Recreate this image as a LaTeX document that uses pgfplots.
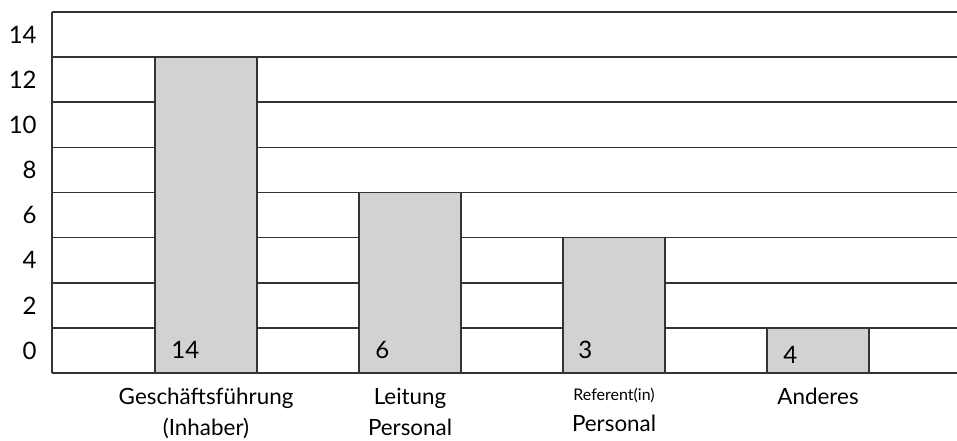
\documentclass[border=0pt]{standalone}
\usepackage{fontspec}
\setmainfont{Lato}
\usepackage{pgfplots}
\pgfplotsset{compat=1.18}
\definecolor{barfill}{HTML}{D1D2D4}
\definecolor{gridc}{HTML}{333333}
\begin{document}
\begin{tikzpicture}
  \begin{axis}[
    at={(0,0)}, anchor=south west,
    scale only axis,
    width=452.5pt, height=180.5pt,
    xmin=0.245, xmax=4.681,
    ymin=0, ymax=16,
    axis x line*=bottom, axis y line*=left,
    axis line style={-, gridc, line width=0.8pt},
    xtick={1,2,3,4},
    xticklabels={Geschäftsführung\\(Inhaber), Leitung\\Personal,
      {{\fontsize{8}{9}\selectfont Referent(in)}\\Personal}, Anderes},
    xticklabel style={align=center, anchor=north, inner sep=0pt, yshift=-7.5pt,
      font=\fontsize{11.2}{15.5}\selectfont},
    ytick={1,3,...,15},
    yticklabels={0,2,4,6,8,10,12,14},
    yticklabel style={anchor=east, inner sep=0pt, xshift=-7.5pt,
      font=\fontsize{12}{14}\selectfont},
    minor ytick={0,2,...,16},
    yminorgrids=true,
    minor grid style={gridc, line width=0.8pt},
    major tick length=0pt, minor tick length=0pt,
  ]
    \addplot[ybar, bar width=51pt, fill=barfill, draw=gridc, line width=0.8pt]
      coordinates {(1,14) (2,8) (3,6) (4,2)};
    \node[anchor=base west, inner sep=0pt, xshift=8pt, font=\fontsize{12}{14}\selectfont]
      at (axis cs:0.75,0.665) {14};
    \node[anchor=base west, inner sep=0pt, xshift=8pt, font=\fontsize{12}{14}\selectfont]
      at (axis cs:1.75,0.665) {6};
    \node[anchor=base west, inner sep=0pt, xshift=7.5pt, font=\fontsize{12}{14}\selectfont]
      at (axis cs:2.75,0.665) {3};
    \node[anchor=base west, inner sep=0pt, xshift=8pt, font=\fontsize{12}{14}\selectfont]
      at (axis cs:3.75,0.44) {4};
  \end{axis}
  \pgfresetboundingbox
  \path (-26pt,-33.5pt) rectangle (452.5pt,186.5pt);
\end{tikzpicture}
\end{document}
